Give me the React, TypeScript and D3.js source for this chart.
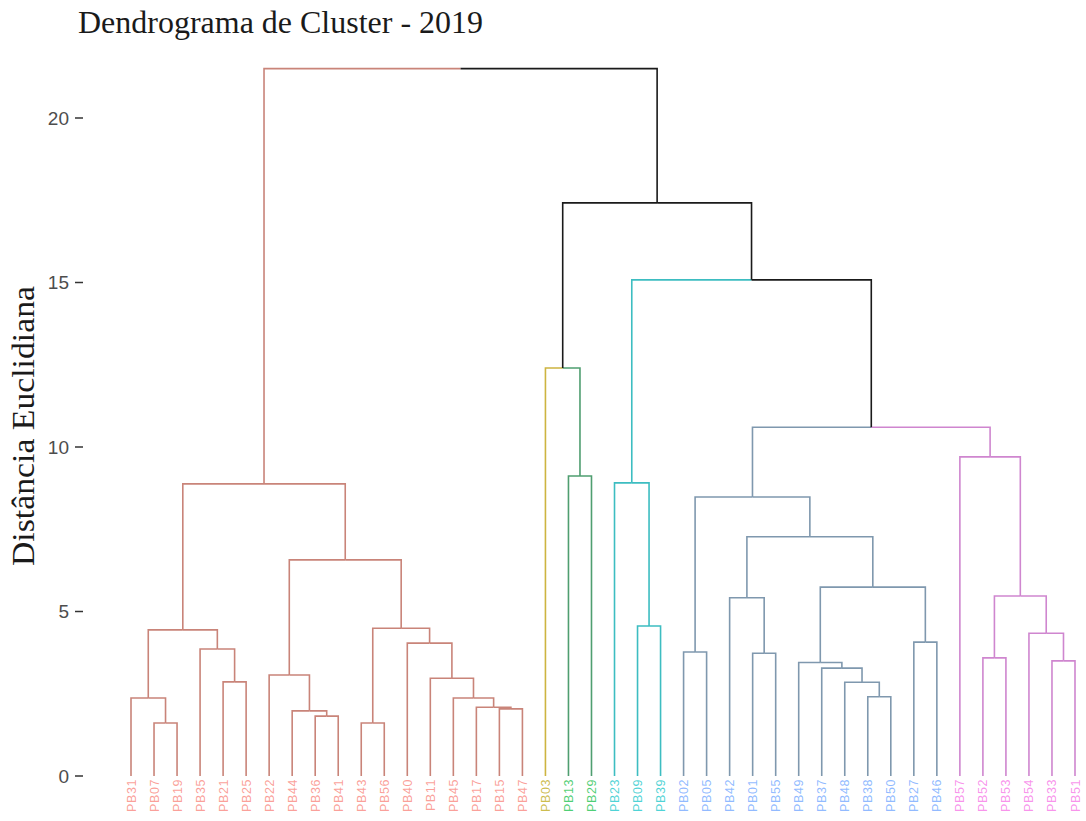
import React from "react";
import * as d3 from "d3";

const leaves = [
  "PB31", "PB07", "PB19", "PB35", "PB21", "PB25", "PB22", "PB44", "PB36", "PB41",
  "PB43", "PB56", "PB40", "PB11", "PB45", "PB17", "PB15", "PB47",
  "PB03",
  "PB13", "PB29",
  "PB23", "PB09", "PB39",
  "PB02", "PB05", "PB42", "PB01", "PB55", "PB49", "PB37", "PB48", "PB38", "PB50", "PB27", "PB46",
  "PB57", "PB52", "PB53", "PB54", "PB33", "PB51",
];

const clusterSizes = [18, 1, 2, 3, 12, 6];

// hclust-style merges: leaf name or 1-based index of an earlier merge, and height
const merges: [string | number, string | number, number][] = [
  ["PB07", "PB19", 1.61],
  ["PB31", 1, 2.37],
  ["PB21", "PB25", 2.86],
  ["PB35", 3, 3.86],
  [2, 4, 4.44],
  ["PB36", "PB41", 1.82],
  ["PB44", 6, 1.98],
  ["PB22", 7, 3.07],
  ["PB43", "PB56", 1.61],
  ["PB15", "PB47", 2.04],
  ["PB17", 10, 2.09],
  ["PB45", 11, 2.37],
  ["PB11", 12, 2.97],
  ["PB40", 13, 4.04],
  [9, 14, 4.49],
  [8, 15, 6.57],
  [5, 16, 8.88],
  ["PB13", "PB29", 9.12],
  ["PB03", 18, 12.4],
  ["PB09", "PB39", 4.56],
  ["PB23", 20, 8.91],
  ["PB02", "PB05", 3.77],
  ["PB01", "PB55", 3.73],
  ["PB42", 23, 5.42],
  ["PB38", "PB50", 2.41],
  ["PB48", 25, 2.85],
  ["PB37", 26, 3.28],
  ["PB49", 27, 3.45],
  ["PB27", "PB46", 4.07],
  [28, 29, 5.74],
  [24, 30, 7.27],
  [22, 31, 8.48],
  ["PB52", "PB53", 3.59],
  ["PB33", "PB51", 3.5],
  ["PB54", 34, 4.34],
  [33, 35, 5.47],
  ["PB57", 36, 9.7],
  [32, 37, 10.6],
  [21, 38, 15.08],
  [19, 39, 17.42],
  [17, 40, 21.5],
];

const yTicks = [0, 5, 10, 15, 20];

const lineColors = ["#C98479", "#CDB440", "#4F9E70", "#3DBDC1", "#7F98AE", "#CF86CF"];
const labelColors = ["#F8766D", "#B79F00", "#00BA38", "#00BFC4", "#619CFF", "#F564E3"];

type Node = { i: number; h: number; c: Set<number> };

export default function App() {
  const W = 1086;
  const H = 821;
  const x = d3.scaleLinear().domain([0, leaves.length - 1]).range([131, 1075]);
  const y = d3.scaleLinear().domain([0, 20]).range([776, 118]);

  const leafCluster: number[] = [];
  clusterSizes.forEach((n, k) => {
    for (let j = 0; j < n; j++) leafCluster.push(k);
  });

  const leafNodes: Record<string, Node> = {};
  leaves.forEach((name, i) => {
    leafNodes[name] = { i, h: 0, c: new Set([leafCluster[i]]) };
  });

  const nodes: Node[] = [];
  const segs: { d: string; color: string; k: string }[] = [];
  const line = d3.line<[number, number]>();
  merges.forEach(([a, b, h], mi) => {
    const A = typeof a === "string" ? leafNodes[a] : nodes[a - 1];
    const B = typeof b === "string" ? leafNodes[b] : nodes[b - 1];
    const pi = (A.i + B.i) / 2;
    [A, B].forEach((ch, ci) => {
      const color = ch.c.size === 1 ? lineColors[[...ch.c][0]] : "#1a1a1a";
      const d = line([
        [x(ch.i), y(ch.h)],
        [x(ch.i), y(h)],
        [x(pi), y(h)],
      ]) as string;
      segs.push({ d, color, k: `${mi}-${ci}` });
    });
    nodes.push({ i: pi, h, c: new Set([...A.c, ...B.c]) });
  });

  return (
    <svg
      width={W}
      height={H}
      style={{ position: "absolute", left: 0, top: 0, background: "#fff" }}
    >
      <text
        x={78}
        y={33}
        fontFamily="'Liberation Serif', 'Times New Roman', serif"
        fontSize={31}
        fill="#1a1a1a"
        textLength={405}
        lengthAdjust="spacingAndGlyphs"
      >
        Dendrograma de Cluster - 2019
      </text>
      <text
        transform={`translate(34,426) rotate(-90)`}
        textAnchor="middle"
        fontFamily="'Liberation Serif', 'Times New Roman', serif"
        fontSize={32}
        fill="#1a1a1a"
        textLength={280}
        lengthAdjust="spacingAndGlyphs"
      >
        Distância Euclidiana
      </text>
      {yTicks.map((t) => (
        <g key={t}>
          <line x1={75} x2={83} y1={y(t)} y2={y(t)} stroke="#333" strokeWidth={1.5} />
          <text
            x={69}
            y={y(t)}
            dy="0.36em"
            textAnchor="end"
            fontFamily="'Liberation Sans', Arial, sans-serif"
            fontSize={19}
            fill="#4D4D4D"
          >
            {t}
          </text>
        </g>
      ))}
      <g fill="none" strokeWidth={1.6}>
        {segs.map((s) => (
          <path key={s.k} d={s.d} stroke={s.color} />
        ))}
      </g>
      {leaves.map((name, i) => (
        <text
          key={name}
          transform={`translate(${x(i)},779) rotate(-90)`}
          dy="0.36em"
          textAnchor="end"
          fontFamily="'Liberation Sans', Arial, sans-serif"
          fontSize={12.5}
          letterSpacing={0.6}
          fill={labelColors[leafCluster[i]]}
          fillOpacity={0.7}
        >
          {name}
        </text>
      ))}
    </svg>
  );
}
